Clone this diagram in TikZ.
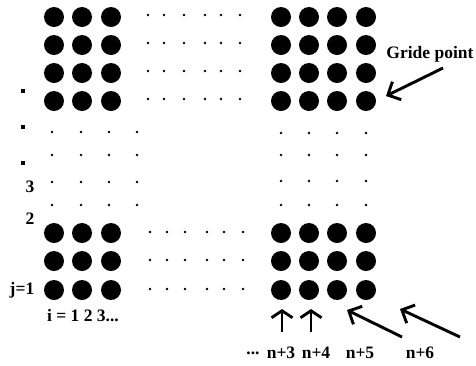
\documentclass[tikz,border=0pt]{standalone}
\usepackage{fontspec}
\setmainfont{Liberation Serif}
\usetikzlibrary{arrows.meta}
\begin{document}
\begin{tikzpicture}[x=1pt,y=-1pt,
 bigdot/.style={circle,fill=black,inner sep=0pt,minimum size=20pt},
 smalldot/.style={circle,fill=black,inner sep=0pt,minimum size=2.6pt},
 sqmark/.style={rectangle,fill=black,inner sep=0pt,minimum size=3.6pt},
 lbl/.style={font=\bfseries\fontsize{17.5}{17.5}\selectfont,inner sep=0pt},
 arrA/.style={-{Straight Barb[length=10pt,width=20pt]},line width=2.9pt},
 arrB/.style={-{Straight Barb[length=7pt,width=21pt]},line width=2.9pt}]
\useasboundingbox (0,0) rectangle (476,365);
% big dots, left blocks
\foreach \x [count=\i] in {54,82,111}{
  \foreach \y [count=\j] in {17,45,73,101}{
    \node[bigdot] (LT\i\j) at (\x,\y) {};}
  \foreach \y [count=\j] in {233,261,290}{
    \node[bigdot] (LB\i\j) at (\x,\y) {};}
}
% big dots, right blocks
\foreach \x [count=\i] in {281,309,337,366}{
  \foreach \y [count=\j] in {17,45,73,101}{
    \node[bigdot] (RT\i\j) at (\x,\y) {};}
  \foreach \y [count=\j] in {233,261,290}{
    \node[bigdot] (RB\i\j) at (\x,\y) {};}
}
% small dots, top middle
\foreach \x [count=\i] in {148,164,184,205,221,240}{
  \foreach \y [count=\j] in {15,43,71,99}{
    \node[smalldot] (MT\i\j) at (\x,\y) {};}}
% small dots, bottom middle
\foreach \x [count=\i] in {150,167,185,207,224,243}{
  \foreach \y [count=\j] in {232,260,289}{
    \node[smalldot] (MB\i\j) at (\x,\y) {};}}
% small dots, left middle
\foreach \x [count=\i] in {52,81,109,137}{
  \foreach \y [count=\j] in {132,155,182,205}{
    \node[smalldot] (ML\i\j) at (\x,\y) {};}}
% small dots, right middle
\foreach \x [count=\i] in {281,309,337,366}{
  \foreach \y [count=\j] in {133,155,181,205}{
    \node[smalldot] (MR\i\j) at (\x,\y) {};}}
% vertical ellipsis marks
\node[sqmark] (v1) at (23,91) {};
\node[sqmark] (v2) at (23,127) {};
\node[sqmark] (v3) at (23,163) {};
% labels
\node[lbl] (l3) at (30,187) {3};
\node[lbl] (l2) at (30,219) {2};
\node[lbl] (lj) at (22,290) {j=1};
\node[lbl] (li) at (83,316) {i = 1 2 3...};
\node[lbl] (gp) at (430,54) {Gride point};
\node[lbl] (ld) at (253,353) {...};
\node[lbl] (n3) at (281,353) {n+3};
\node[lbl] (n4) at (316,353) {n+4};
\node[lbl] (n5) at (360,353) {n+5};
\node[lbl] (n6) at (420,353) {n+6};
% arrow end points
\coordinate (gpT) at (443,68);
\coordinate (gpH) at (386,96);
\coordinate (a3T) at (282,332);
\coordinate (a3H) at (282,309);
\coordinate (a4T) at (311,332);
\coordinate (a4H) at (311,309);
\coordinate (a5T) at (402,337);
\coordinate (a5H) at (347,310);
\coordinate (a6T) at (460,337);
\coordinate (a6H) at (400,309);
\draw[arrA] (gpT) -- (gpH);
\draw[arrB] (a3T) -- (a3H);
\draw[arrB] (a4T) -- (a4H);
\draw[arrA] (a5T) -- (a5H);
\draw[arrA] (a6T) -- (a6H);
\end{tikzpicture}
\end{document}
